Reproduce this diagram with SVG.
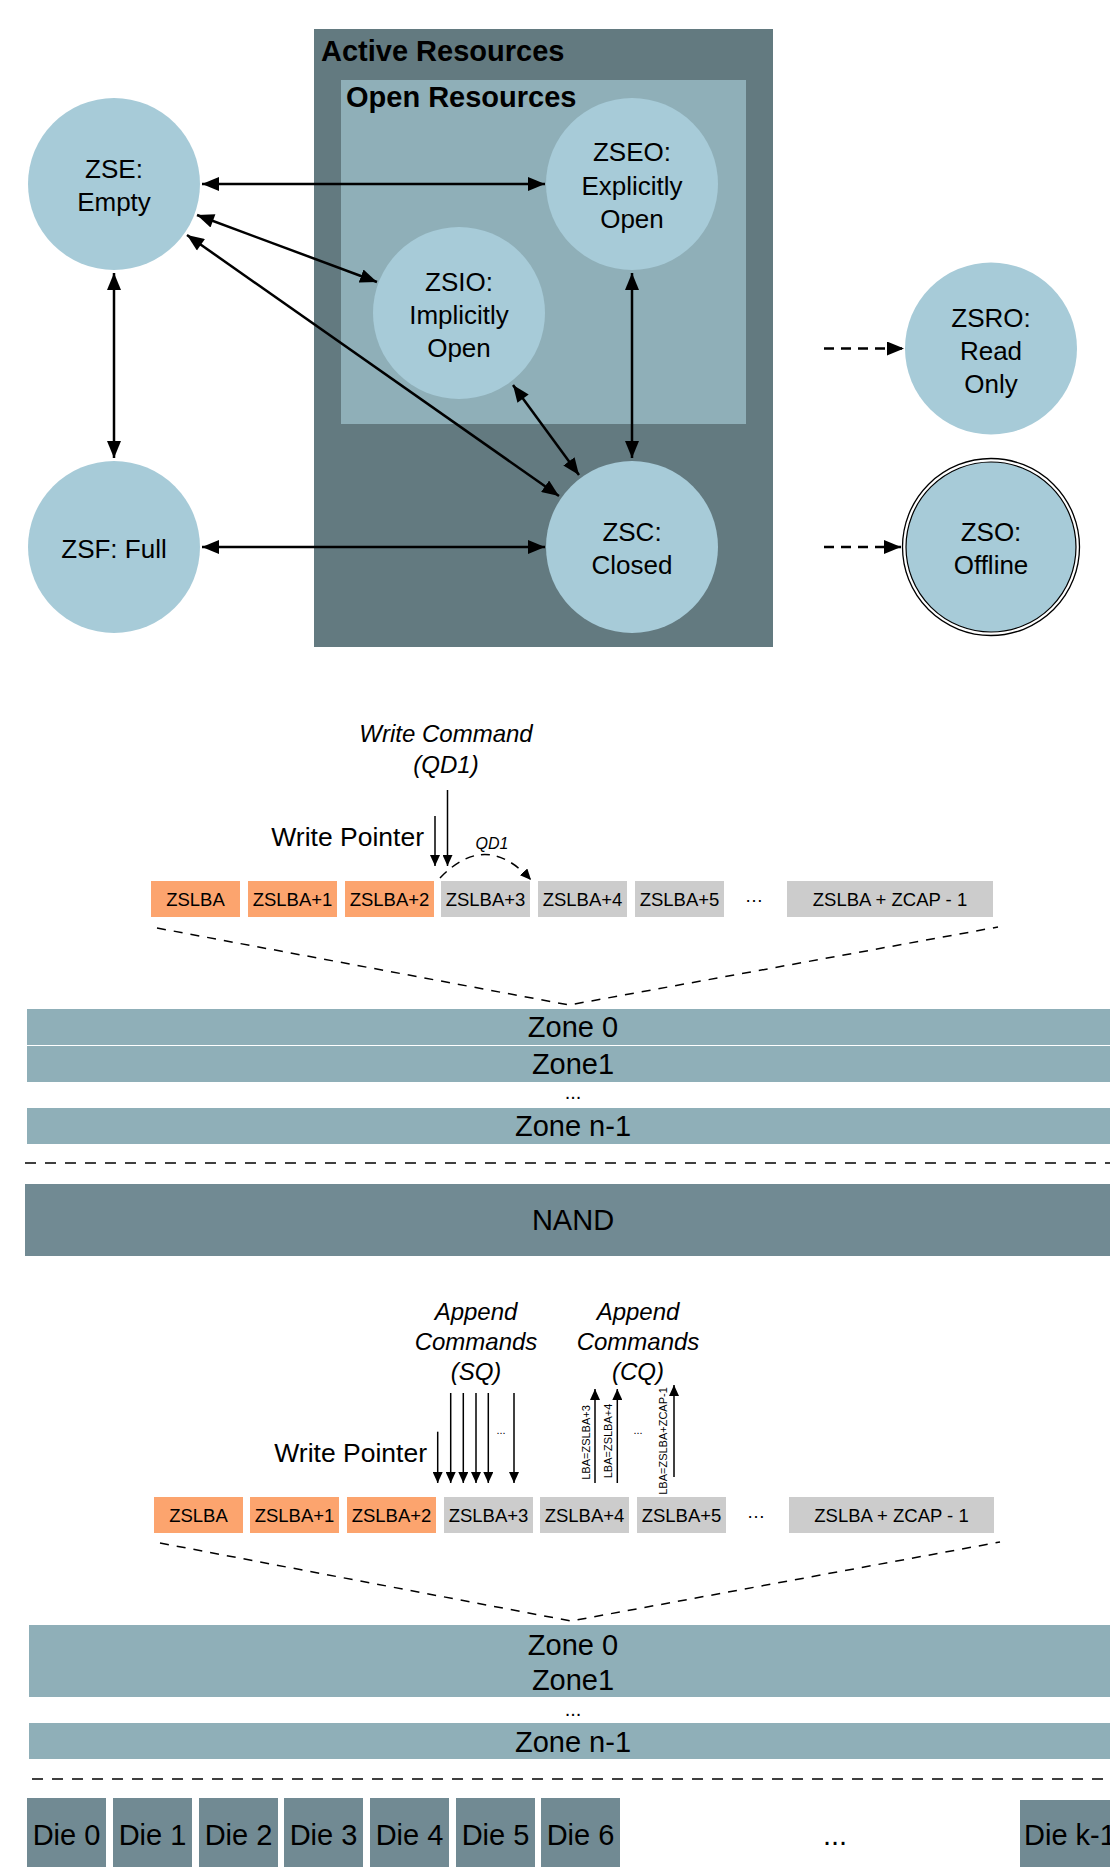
<svg xmlns="http://www.w3.org/2000/svg" width="1110" height="1867" viewBox="0 0 1110 1867">
  <style>
    text { font-family: "Liberation Sans", Arial, Helvetica, sans-serif; fill: #000; }
    .state { fill: #a7cbd8; }
    .lbl { font-size: 26px; text-anchor: middle; }
    .title { font-size: 29px; font-weight: bold; }
    .edge { stroke: #000; stroke-width: 2.5; fill: none; marker-start: url(#headS); marker-end: url(#headE); }
    .dash { stroke: #000; stroke-width: 2.5; fill: none; stroke-dasharray: 10 7; marker-end: url(#headE); }
    .blk { font-size: 18.5px; text-anchor: middle; }
    .org { fill: #fca46e; }
    .gry { fill: #cccccc; }
    .zone { fill: #8fafb8; }
    .ztxt { font-size: 29px; text-anchor: middle; }
    .dots { font-size: 20px; text-anchor: middle; }
    .nand { fill: #718a93; }
    .cmd { font-size: 24px; font-style: italic; text-anchor: middle; }
    .wp { font-size: 26.5px; text-anchor: end; }
    .thin { stroke: #000; stroke-width: 1.5; fill: none; marker-end: url(#small); }
    .guide { stroke: #000; stroke-width: 1.5; fill: none; stroke-dasharray: 9 8; }
    .sep { stroke: #000; stroke-width: 1.5; fill: none; stroke-dasharray: 11 9; }
    .tiny { font-size: 11px; text-anchor: middle; }
    .die { font-size: 29px; text-anchor: middle; }
  </style>
  <defs>
    <marker id="headE" markerUnits="userSpaceOnUse" markerWidth="18" markerHeight="14" refX="17" refY="7" orient="auto">
      <path d="M0,0 L17,7 L0,14 Z" fill="#000"/>
    </marker>
    <marker id="headS" markerUnits="userSpaceOnUse" markerWidth="18" markerHeight="14" refX="0" refY="7" orient="auto">
      <path d="M17,0 L0,7 L17,14 Z" fill="#000"/>
    </marker>
    <marker id="small" markerUnits="userSpaceOnUse" markerWidth="12" markerHeight="10" refX="11" refY="5" orient="auto">
      <path d="M0,0 L11,5 L0,10 Z" fill="#000"/>
    </marker>
  </defs>

  <!-- Zone state machine: resource groups -->
  <g id="active-resources">
    <rect x="314" y="29" width="459" height="618" fill="#637a80"/>
    <text class="title" x="321" y="61">Active Resources</text>
  </g>
  <g id="open-resources">
    <rect x="341" y="80" width="405" height="344" fill="#8fafb8"/>
    <text class="title" x="346" y="107">Open Resources</text>
  </g>

  <!-- Zone states -->
  <g id="zse">
    <circle class="state" cx="114" cy="184" r="86"/>
    <text class="lbl" x="114" y="178">ZSE:</text>
    <text class="lbl" x="114" y="211">Empty</text>
  </g>
  <g id="zseo">
    <circle class="state" cx="632" cy="184" r="86"/>
    <text class="lbl" x="632" y="161">ZSEO:</text>
    <text class="lbl" x="632" y="195">Explicitly</text>
    <text class="lbl" x="632" y="228">Open</text>
  </g>
  <g id="zsio">
    <circle class="state" cx="459" cy="313" r="86"/>
    <text class="lbl" x="459" y="291">ZSIO:</text>
    <text class="lbl" x="459" y="324">Implicitly</text>
    <text class="lbl" x="459" y="357">Open</text>
  </g>
  <g id="zsro">
    <circle class="state" cx="991" cy="348.5" r="86"/>
    <text class="lbl" x="991" y="327">ZSRO:</text>
    <text class="lbl" x="991" y="360">Read</text>
    <text class="lbl" x="991" y="393">Only</text>
  </g>
  <g id="zsf">
    <circle class="state" cx="114" cy="547" r="86"/>
    <text class="lbl" x="114" y="558">ZSF: Full</text>
  </g>
  <g id="zsc">
    <circle class="state" cx="632" cy="547" r="86"/>
    <text class="lbl" x="632" y="541">ZSC:</text>
    <text class="lbl" x="632" y="574">Closed</text>
  </g>
  <g id="zso">
    <circle cx="991" cy="547" r="88.5" fill="#fff" stroke="#000" stroke-width="1.3"/>
    <circle class="state" cx="991" cy="547" r="85" stroke="#000" stroke-width="1.2"/>
    <text class="lbl" x="991" y="541">ZSO:</text>
    <text class="lbl" x="991" y="574">Offline</text>
  </g>

  <!-- State transitions -->
  <g id="transitions">
    <line class="edge" x1="202" y1="184" x2="545" y2="184"/>
    <line class="edge" x1="197" y1="215" x2="377" y2="282"/>
    <line class="edge" x1="187" y1="235" x2="559" y2="496"/>
    <line class="edge" x1="513" y1="385" x2="579" y2="475"/>
    <line class="edge" x1="632" y1="273" x2="632" y2="458"/>
    <line class="edge" x1="114" y1="273" x2="114" y2="458"/>
    <line class="edge" x1="202" y1="547" x2="545" y2="547"/>
    <line class="dash" x1="824" y1="348.5" x2="904" y2="348.5"/>
    <line class="dash" x1="824" y1="547" x2="901" y2="547"/>
  </g>

  <!-- Write command layout -->
  <g id="write-blocks">
    <rect class="org" x="151" y="881" width="89" height="36"/>
    <rect class="org" x="248" y="881" width="89" height="36"/>
    <rect class="org" x="345" y="881" width="89" height="36"/>
    <rect class="gry" x="441" y="881" width="89" height="36"/>
    <rect class="gry" x="538" y="881" width="89" height="36"/>
    <rect class="gry" x="635" y="881" width="89" height="36"/>
    <rect class="gry" x="787" y="881" width="206" height="36"/>
    <text class="blk" x="195.5" y="905.5">ZSLBA</text>
    <text class="blk" x="292.5" y="905.5">ZSLBA+1</text>
    <text class="blk" x="389.5" y="905.5">ZSLBA+2</text>
    <text class="blk" x="485.5" y="905.5">ZSLBA+3</text>
    <text class="blk" x="582.5" y="905.5">ZSLBA+4</text>
    <text class="blk" x="679.5" y="905.5">ZSLBA+5</text>
    <text class="blk" x="754" y="902">…</text>
    <text class="blk" x="890" y="905.5">ZSLBA + ZCAP - 1</text>
  </g>
  <g id="write-labels">
    <text class="cmd" x="446" y="742">Write Command</text>
    <text class="cmd" x="446" y="773">(QD1)</text>
    <text class="wp" x="424" y="846">Write Pointer</text>
    <text class="cmd" x="492" y="849" style="font-size:16px">QD1</text>
  </g>
  <g id="write-arrows">
    <line class="thin" x1="435" y1="816" x2="435" y2="866"/>
    <line class="thin" x1="447.5" y1="790" x2="447.5" y2="866"/>
    <path class="thin" d="M440,878 Q486,830 531,880" stroke-dasharray="9 7"/>
    <path class="guide" d="M157,928 L569,1005 L998,927"/>
  </g>

  <!-- Zones mapped onto NAND -->
  <g id="zones-top">
    <rect class="zone" x="27" y="1009" width="1083" height="36"/>
    <rect class="zone" x="27" y="1046" width="1083" height="36"/>
    <rect class="zone" x="27" y="1108" width="1083" height="36"/>
    <text class="ztxt" x="573" y="1037">Zone 0</text>
    <text class="ztxt" x="573" y="1074">Zone1</text>
    <text class="dots" x="573" y="1099">...</text>
    <text class="ztxt" x="573" y="1136">Zone n-1</text>
  </g>
  <line class="sep" x1="25" y1="1163" x2="1110" y2="1163"/>
  <g id="nand">
    <rect class="nand" x="25" y="1184" width="1085" height="72"/>
    <text class="ztxt" x="573" y="1230">NAND</text>
  </g>

  <!-- Append command layout -->
  <g id="append-blocks">
    <rect class="org" x="154" y="1497" width="89" height="36"/>
    <rect class="org" x="250" y="1497" width="89" height="36"/>
    <rect class="org" x="347" y="1497" width="89" height="36"/>
    <rect class="gry" x="444" y="1497" width="89" height="36"/>
    <rect class="gry" x="540" y="1497" width="89" height="36"/>
    <rect class="gry" x="637" y="1497" width="89" height="36"/>
    <rect class="gry" x="789" y="1497" width="205" height="36"/>
    <text class="blk" x="198.5" y="1521.5">ZSLBA</text>
    <text class="blk" x="294.5" y="1521.5">ZSLBA+1</text>
    <text class="blk" x="391.5" y="1521.5">ZSLBA+2</text>
    <text class="blk" x="488.5" y="1521.5">ZSLBA+3</text>
    <text class="blk" x="584.5" y="1521.5">ZSLBA+4</text>
    <text class="blk" x="681.5" y="1521.5">ZSLBA+5</text>
    <text class="blk" x="756" y="1518">…</text>
    <text class="blk" x="891.5" y="1521.5">ZSLBA + ZCAP - 1</text>
  </g>
  <g id="append-labels">
    <text class="cmd" x="476" y="1320">Append</text>
    <text class="cmd" x="476" y="1350">Commands</text>
    <text class="cmd" x="476" y="1380">(SQ)</text>
    <text class="cmd" x="638" y="1320">Append</text>
    <text class="cmd" x="638" y="1350">Commands</text>
    <text class="cmd" x="638" y="1380">(CQ)</text>
    <text class="wp" x="427" y="1462">Write Pointer</text>
    <text class="tiny" x="501" y="1434">...</text>
    <text class="tiny" x="638" y="1434">...</text>
    <text class="tiny" transform="translate(589.5,1442.5) rotate(-90)">LBA=ZSLBA+3</text>
    <text class="tiny" transform="translate(612,1441) rotate(-90)">LBA=ZSLBA+4</text>
    <text class="tiny" transform="translate(666.5,1441) rotate(-90)">LBA=ZSLBA+ZCAP-1</text>
  </g>
  <g id="append-arrows">
    <line class="thin" x1="437.7" y1="1431.7" x2="437.7" y2="1483"/>
    <line class="thin" x1="450.7" y1="1393" x2="450.7" y2="1483"/>
    <line class="thin" x1="463.3" y1="1393" x2="463.3" y2="1483"/>
    <line class="thin" x1="476" y1="1393" x2="476" y2="1483"/>
    <line class="thin" x1="488.3" y1="1393" x2="488.3" y2="1483"/>
    <line class="thin" x1="514" y1="1393" x2="514" y2="1483"/>
    <line class="thin" x1="595" y1="1483" x2="595" y2="1389"/>
    <line class="thin" x1="617.3" y1="1483" x2="617.3" y2="1389"/>
    <line class="thin" x1="674" y1="1477" x2="674" y2="1385"/>
    <path class="guide" d="M160,1543 L571,1621 L1000,1542"/>
  </g>

  <!-- Zones mapped onto dies -->
  <g id="zones-bottom">
    <rect class="zone" x="29" y="1625" width="1081" height="72"/>
    <rect class="zone" x="29" y="1723" width="1081" height="36"/>
    <text class="ztxt" x="573" y="1655">Zone 0</text>
    <text class="ztxt" x="573" y="1690">Zone1</text>
    <text class="dots" x="573" y="1716">...</text>
    <text class="ztxt" x="573" y="1752">Zone n-1</text>
  </g>
  <line class="sep" x1="32" y1="1779" x2="1110" y2="1779"/>
  <g id="dies">
    <rect class="nand" x="27" y="1798" width="79" height="69"/>
    <rect class="nand" x="113" y="1798" width="79" height="69"/>
    <rect class="nand" x="199" y="1798" width="79" height="69"/>
    <rect class="nand" x="284" y="1798" width="79" height="69"/>
    <rect class="nand" x="370" y="1798" width="79" height="69"/>
    <rect class="nand" x="456" y="1798" width="79" height="69"/>
    <rect class="nand" x="541" y="1798" width="79" height="69"/>
    <rect class="nand" x="1020" y="1800" width="90" height="67"/>
    <text class="die" x="66.5" y="1845">Die 0</text>
    <text class="die" x="152.5" y="1845">Die 1</text>
    <text class="die" x="238.5" y="1845">Die 2</text>
    <text class="die" x="323.5" y="1845">Die 3</text>
    <text class="die" x="409.5" y="1845">Die 4</text>
    <text class="die" x="495.5" y="1845">Die 5</text>
    <text class="die" x="580.5" y="1845">Die 6</text>
    <text class="die" x="835" y="1845">...</text>
    <text class="die" x="1024" y="1845" style="text-anchor:start">Die k-1</text>
  </g>
</svg>
